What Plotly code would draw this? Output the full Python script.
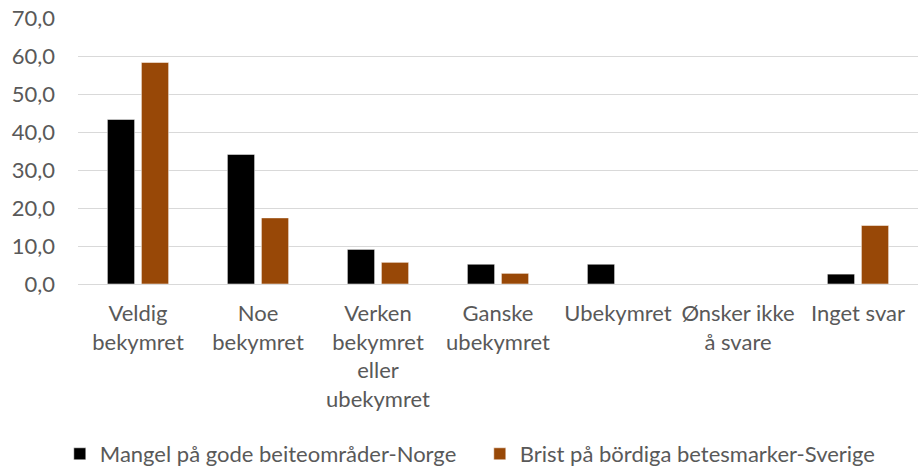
import plotly.graph_objects as go

categories = ["Veldig<br>bekymret", "Noe<br>bekymret", "Verken<br>bekymret<br>eller<br>ubekymret",
              "Ganske<br>ubekymret", "Ubekymret", "Ønsker ikke<br>å svare", "Inget svar"]
norge = [43.3, 34.1, 9.1, 5.2, 5.2, 0.0, 2.6]
sverige = [58.3, 17.4, 5.7, 2.8, 0.0, 0.0, 15.4]
series_names = ["Mangel på gode beiteområder-Norge", "Brist på bördiga betesmarker-Sverige"]
y_ticks = [0, 10, 20, 30, 40, 50, 60, 70]

FONT = "Lato"
GREY = "#595959"
FS = 22

fig = go.Figure()
fig.add_trace(go.Bar(x=categories, y=norge, name=series_names[0],
                     marker=dict(color="#000000", line=dict(color="rgba(255,255,255,0.5)", width=1))))
fig.add_trace(go.Bar(x=categories, y=sverige, name=series_names[1],
                     marker=dict(color="#984807", line=dict(color="rgba(255,255,255,0.5)", width=1))))

fig.update_layout(
    width=920, height=469,
    margin=dict(l=78, r=2, t=18, b=185, autoexpand=False),
    paper_bgcolor="white", plot_bgcolor="white",
    separators=", ",
    barmode="group", bargap=0.433, bargroupgap=0.2,
    font=dict(family=FONT, size=FS, color=GREY),
    showlegend=True,
    legend=dict(orientation="h", x=0.065, xref="container", xanchor="left",
                y=0.032, yref="container", yanchor="middle",
                font=dict(family=FONT, size=FS, color=GREY),
                entrywidth=375, entrywidthmode="pixels",
                itemwidth=30, traceorder="normal"),
    xaxis=dict(showgrid=False, showline=False, ticks="", tickfont=dict(size=FS, color=GREY),
               tickangle=0, automargin=False, ticklabelstandoff=14),
    yaxis=dict(range=[0, 70], tickvals=y_ticks, tickformat=".1f", showgrid=True,
               gridcolor="#d9d9d9", gridwidth=1.3, zeroline=True, zerolinecolor="#d9d9d9",
               zerolinewidth=1.3, showline=False, ticks="", ticklabelstandoff=22,
               tickfont=dict(size=FS, color=GREY), automargin=False),
)

fig.write_html("out.html", config={"displayModeBar": False},
               post_script="document.body.style.margin='0';")
